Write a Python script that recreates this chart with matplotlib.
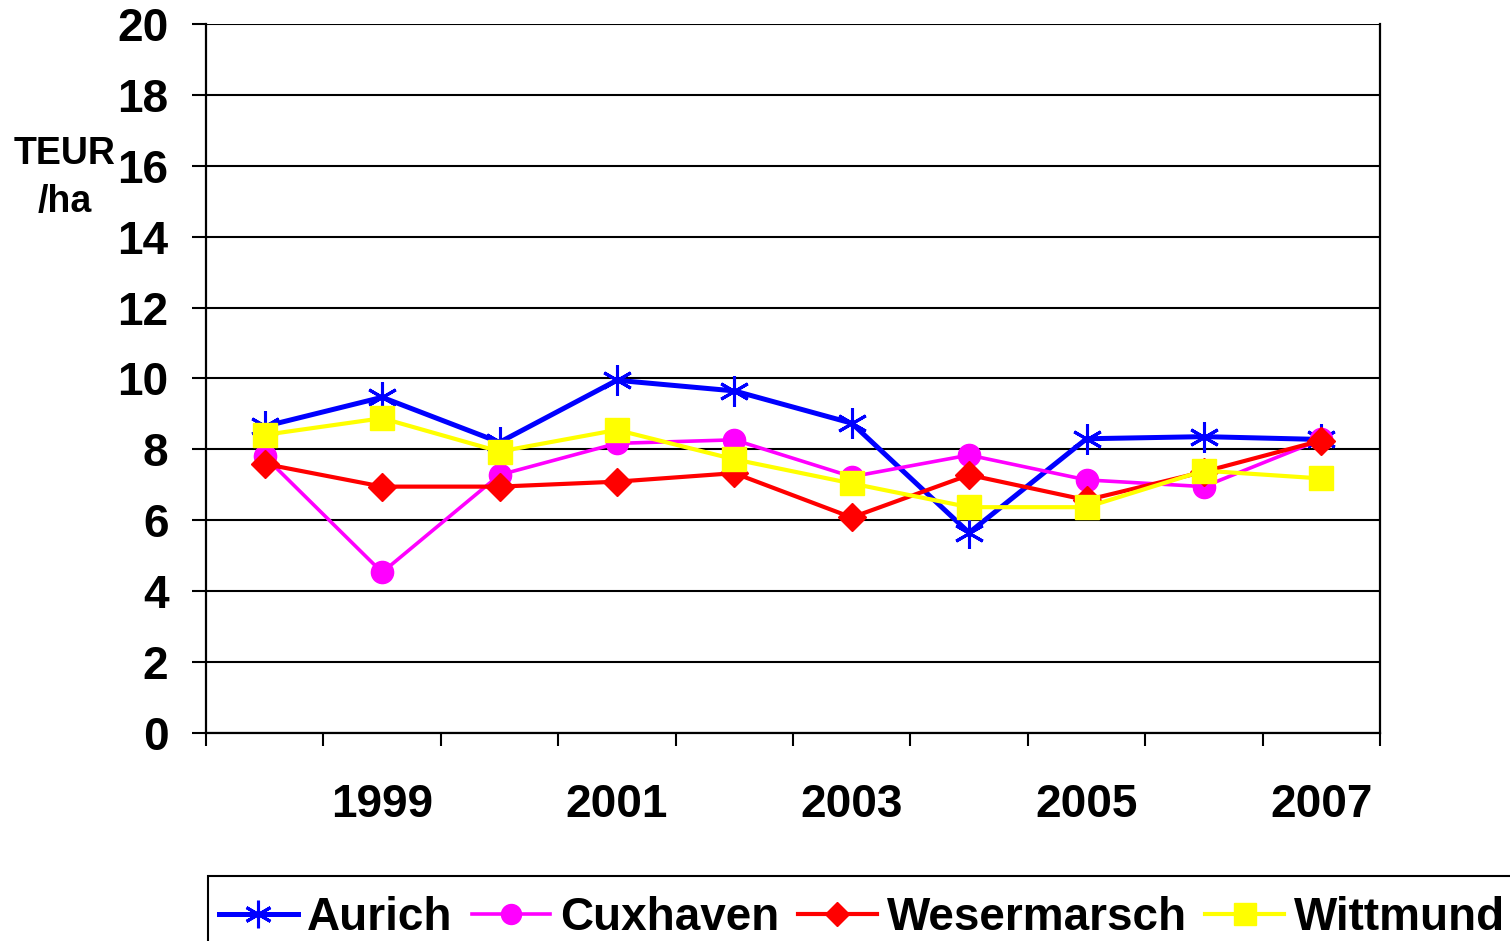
import matplotlib
matplotlib.use("Agg")
import matplotlib.pyplot as plt
from matplotlib.patches import Rectangle
import numpy as np

years = [1998, 1999, 2000, 2001, 2002, 2003, 2004, 2005, 2006, 2007]
aurich = [8.65, 9.47, 8.2, 9.95, 9.65, 8.74, 5.65, 8.3, 8.36, 8.28]
cuxhaven = [7.8, 4.53, 7.28, 8.17, 8.27, 7.23, 7.84, 7.14, 6.95, 8.28]
wesermarsch = [7.59, 6.95, 6.95, 7.09, 7.33, 6.08, 7.28, 6.57, 7.37, 8.25]
wittmund = [8.41, 8.88, 7.94, 8.55, 7.72, 7.04, 6.37, 6.37, 7.4, 7.18]
yticks = list(range(0, 21, 2))
ylabel = "TEUR\n/ha"

plt.rcParams['font.family'] = ['Liberation Sans', 'DejaVu Sans']
plt.rcParams['font.weight'] = 'bold'

W, H = 1510, 941
fig = plt.figure(figsize=(W / 100, H / 100), dpi=100)
ax = fig.add_axes([206 / W, 1 - 733 / H, (1380 - 206) / W, (733 - 24) / H])

x = np.arange(len(years))
asterisk = (6, 2, 0)
ax.plot(x, aurich, color='#0000FF', lw=3.6, marker=asterisk, ms=22, mew=2.2,
        label='Aurich', zorder=3)
ax.plot(x, cuxhaven, color='#FF00FF', lw=2.6, marker='o', ms=16,
        label='Cuxhaven', zorder=4)
ax.plot(x, wesermarsch, color='#FF0000', lw=3.0, marker='D', ms=14,
        label='Wesermarsch', zorder=5)
ax.plot(x, wittmund, color='#FFFF00', lw=3.0, marker='s', ms=17,
        label='Wittmund', zorder=6)

ax.set_xlim(-0.5, len(years) - 0.5)
ax.set_ylim(0, 20)
ax.set_yticks(yticks)
ax.set_yticklabels([str(v) for v in yticks], fontsize=33, fontweight='bold')
ax.tick_params(axis='y', direction='out', length=10, width=1.5, pad=17)

lab_idx = [i for i, y in enumerate(years) if y % 2 == 1]
ax.set_xticks(lab_idx)
ax.set_xticklabels([str(years[i]) for i in lab_idx], fontsize=33, fontweight='bold')
ax.tick_params(axis='x', which='major', length=0, pad=36)
ax.set_xticks(np.arange(-0.5, len(years), 1.0), minor=True)
ax.tick_params(axis='x', which='minor', direction='out', length=9, width=1.5)

ax.grid(axis='y', color='black', lw=1.5, zorder=0)
ax.set_axisbelow(True)
for s in ['left', 'bottom', 'right']:
    ax.spines[s].set_linewidth(1.6)
    ax.spines[s].set_color('black')
ax.spines['top'].set_visible(False)

fig.text(65 / W, 1 - 178 / H, ylabel, ha='center', va='center',
         fontsize=27, fontweight='bold', multialignment='center', linespacing=1.4)

# legend frame (extends beyond the figure's right and bottom edge)
fig.patches.append(Rectangle((208 / W, -0.05), (W + 20 - 208) / W, (H - 876) / H + 0.05,
                             transform=fig.transFigure, fill=False,
                             edgecolor='black', lw=1.5, zorder=10))

leg = fig.legend(loc='upper left', bbox_to_anchor=(205 / W, 1 - 882 / H),
                 bbox_transform=fig.transFigure, ncol=4, fontsize=33,
                 handlelength=1.72, handletextpad=0.21, columnspacing=0.41,
                 borderpad=0.3, borderaxespad=0, frameon=False,
                 markerscale=0.9)
for t in leg.get_texts():
    t.set_fontweight('bold')

fig.savefig('out.png', dpi=100)
